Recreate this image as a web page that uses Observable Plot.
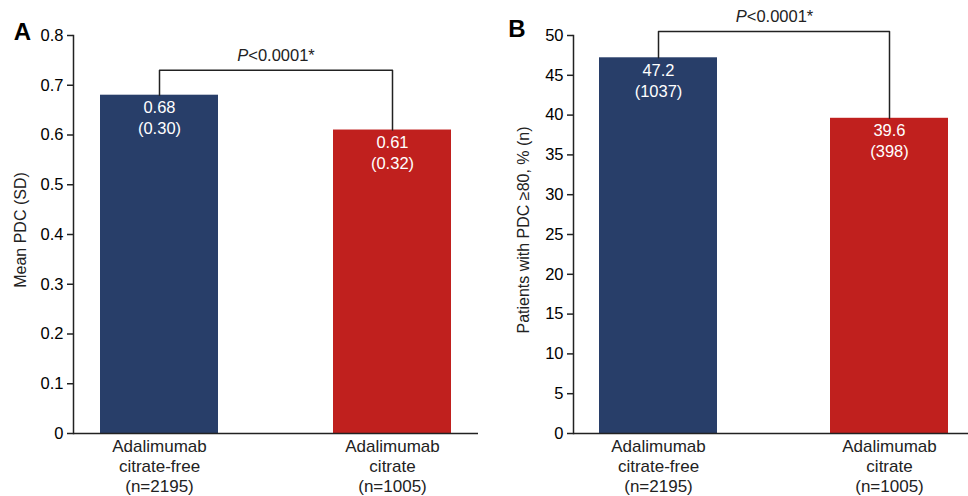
<!DOCTYPE html>
<html>
<head>
<meta charset="utf-8">
<script src="https://cdn.jsdelivr.net/npm/d3@7"></script>
<script src="https://cdn.jsdelivr.net/npm/@observablehq/plot@0.6"></script>
<style>
  html, body { margin: 0; padding: 0; background: #fff; overflow: hidden; }
  #wrap { width: 968px; height: 496px; overflow: hidden; display: flex; font-family: "Liberation Sans", Arial, sans-serif; }
  #wrap svg { flex: none; }
</style>
</head>
<body>
<div id="wrap"></div>
<script>
// ---- data ----
const categories = ["Adalimumab\ncitrate-free\n(n=2195)", "Adalimumab\ncitrate\n(n=1005)"];
const colors = ["#283e69", "#c0201e"];

// Panel A: mean PDC (SD)
const meanPDC = [0.68, 0.61];
const sdPDC = ["0.30", "0.32"];
const ticksA = [0, 0.1, 0.2, 0.3, 0.4, 0.5, 0.6, 0.7, 0.8];
const tickLabelsA = ["0", "0.1", "0.2", "0.3", "0.4", "0.5", "0.6", "0.7", "0.8"];
const bracketLevelA = 0.73;
const pLabelLevelA = 0.76;

// Panel B: patients with PDC >= 80, % (n)
const pctPDC80 = [47.2, 39.6];
const nPDC80 = ["1037", "398"];
const ticksB = [0, 5, 10, 15, 20, 25, 30, 35, 40, 45, 50];
const bracketLevelB = 50.5;
const pLabelLevelB = 52.4;

const pText = "P<0.0001*";
const font = "Liberation Sans, Arial, sans-serif";

function panel({letter, values, secondLine, fmt, ticks, tickLabels, domain, yLabel,
                bracketLevel, pLevel, width, marginLeft, marginRight, paddingInner, paddingOuter,
                letterDx, letterDy, labelDx}) {
  const bars = categories.map((c, i) => ({cat: c, v: values[i], color: colors[i],
    label: fmt(values[i]) + "\n(" + secondLine[i] + ")"}));
  const bracket = [
    {cat: categories[0], y: values[0]},
    {cat: categories[0], y: bracketLevel},
    {cat: categories[1], y: bracketLevel},
    {cat: categories[1], y: values[1]}
  ];
  return Plot.plot({
    width, height: 496,
    marginLeft, marginRight, marginTop: 35, marginBottom: 63,
    style: {fontFamily: font, color: "#000", background: "#fff", overflow: "visible"},
    x: {domain: categories, paddingInner, paddingOuter, axis: null},
    y: {domain, axis: null},
    marks: [
      Plot.barY(bars, {x: "cat", y: "v", fill: "color"}),
      Plot.ruleY([0], {stroke: "#222", strokeWidth: 1.5}),
      Plot.frame({anchor: "left", stroke: "#222", strokeWidth: 1.5}),
      Plot.axisY({ticks, tickFormat: (d, i) => tickLabels ? tickLabels[ticks.indexOf(d)] : String(d),
        tickSize: 6, tickPadding: 4, fontSize: 16.5, stroke: "#222", strokeWidth: 1.5,
        label: null}),
      Plot.text([yLabel], {frameAnchor: "left", rotate: -90, dx: labelDx, dy: -4.5,
        textAnchor: "middle", lineAnchor: "middle", fontSize: 16, fill: "#222"}),
      Plot.text(bars, {x: "cat", y: "v", text: "label", lineAnchor: "top", dy: 3,
        fill: "white", fontSize: 16.5, lineHeight: 1.27}),
      Plot.text(categories, {x: d => d, y: () => 0, text: d => d, lineAnchor: "top", dy: 4,
        fontSize: 17, lineHeight: 1.18, fill: "#222"}),
      Plot.line(bracket, {x: "cat", y: "y", stroke: "#222", strokeWidth: 1.5}),
      Plot.text([pText], {y: () => pLevel, frameAnchor: "middle", fontSize: 16.5, fill: "#222"}),
      Plot.text([letter], {frameAnchor: "top-left", dx: letterDx, dy: letterDy, fontSize: 24,
        fontWeight: "bold", textAnchor: "middle", lineAnchor: "middle", fill: "#000"})
    ]
  });
}

const wrap = document.getElementById("wrap");
const A = panel({letter: "A", values: meanPDC, secondLine: sdPDC, fmt: d => d.toFixed(2),
  ticks: ticksA, tickLabels: tickLabelsA, domain: [0, 0.8], yLabel: "Mean PDC (SD)",
  bracketLevel: bracketLevelA, pLevel: pLabelLevelA, width: 484, marginLeft: 73, marginRight: 6,
  paddingInner: 0.494, paddingOuter: 0.116, letterDx: -51, letterDy: -3.5, labelDx: -53});
const B = panel({letter: "B", values: pctPDC80, secondLine: nPDC80, fmt: d => d.toFixed(1),
  ticks: ticksB, tickLabels: null, domain: [0, 50], yLabel: "Patients with PDC \u226580, % (n)",
  bracketLevel: bracketLevelB, pLevel: pLabelLevelB, width: 491, marginLeft: 89, marginRight: 0,
  paddingInner: 0.488, paddingOuter: 0.1115, letterDx: -56.5, letterDy: -6, labelDx: -50});
wrap.appendChild(A);
wrap.appendChild(B);

// italic "P" in the significance label
for (const t of document.querySelectorAll("svg text")) {
  if (t.textContent === pText) {
    t.textContent = "";
    const ns = "http://www.w3.org/2000/svg";
    const s1 = document.createElementNS(ns, "tspan");
    s1.setAttribute("font-style", "italic");
    s1.textContent = "P";
    const s2 = document.createElementNS(ns, "tspan");
    s2.textContent = pText.slice(1);
    t.appendChild(s1);
    t.appendChild(s2);
  }
}
</script>
</body>
</html>
